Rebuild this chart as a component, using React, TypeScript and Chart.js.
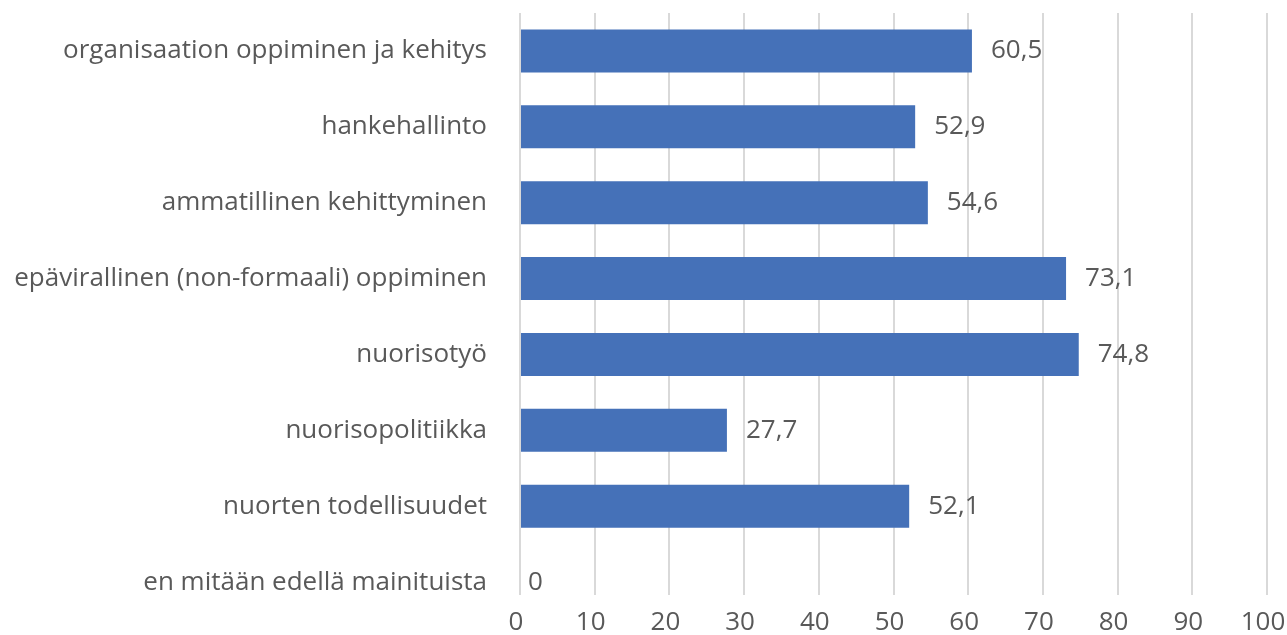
import React, { useEffect, useRef } from "react";
import { Chart, registerables } from "chart.js";

Chart.register(...registerables);

const categories = [
  "organisaation oppiminen ja kehitys",
  "hankehallinto",
  "ammatillinen kehittyminen",
  "epävirallinen (non-formaali) oppiminen",
  "nuorisotyö",
  "nuorisopolitiikka",
  "nuorten todellisuudet",
  "en mitään edellä mainituista",
];
const values = [60.5, 52.9, 54.6, 73.1, 74.8, 27.7, 52.1, 0];
const xTicks = [0, 10, 20, 30, 40, 50, 60, 70, 80, 90, 100];

const FONT = "'Open Sans'";
const SIZE = 26;
const TEXT = "#595959";

const fmt = (v: number) =>
  Number.isInteger(v) ? String(v) : v.toFixed(1).replace(".", ",");

const valueLabels = {
  id: "valueLabels",
  afterDatasetsDraw(chart: any) {
    const { ctx } = chart;
    const meta = chart.getDatasetMeta(0);
    ctx.save();
    ctx.font = `${SIZE}px ${FONT}`;
    ctx.fillStyle = TEXT;
    ctx.textAlign = "left";
    ctx.textBaseline = "middle";
    meta.data.forEach((bar: any, i: number) => {
      const v = values[i];
      ctx.fillText(fmt(v), bar.x + (v === 0 ? 8 : 19), bar.y);
    });
    ctx.restore();
  },
};

export default function App() {
  const ref = useRef<HTMLCanvasElement | null>(null);
  useEffect(() => {
    document.body.style.margin = "0";
    if (!ref.current) return;
    const chart = new Chart(ref.current, {
      type: "bar",
      data: {
        datasets: [
          {
            data: values.map((v, i) => ({ x: v, y: i })),
            backgroundColor: "#4571B8",
            borderWidth: 0,
            inflateAmount: 0,
            barThickness: 43,
          },
        ],
      },
      options: {
        indexAxis: "y",
        animation: false,
        responsive: false,
        layout: { padding: { top: 13, right: 20, bottom: 0, left: 0 } },
        plugins: { legend: { display: false }, tooltip: { enabled: false } },
        scales: {
          x: {
            type: "linear",
            min: 0,
            max: 100,
            afterBuildTicks: (s: any) => {
              s.ticks = xTicks.map((v) => ({ value: v }));
            },
            afterFit: (s: any) => {
              s.height = 40;
              s.paddingLeft = 0;
              s.paddingRight = 0;
            },
            grid: { color: "#d9d9d9", lineWidth: 2, drawTicks: false },
            border: { display: false },
            ticks: {
              color: TEXT,
              font: { family: FONT, size: SIZE },
              padding: 12,
              labelOffset: -4,
              maxRotation: 0,
            },
          },
          y: {
            type: "linear",
            reverse: true,
            offset: false,
            min: -0.5,
            max: 7.17,
            afterBuildTicks: (s: any) => {
              s.ticks = categories.map((_, i) => ({ value: i }));
            },
            afterFit: (s: any) => {
              s.width = 520;
              s.paddingTop = 0;
              s.paddingBottom = 0;
            },
            grid: { display: false, drawTicks: false, offset: false },
            border: { display: false },
            ticks: {
              color: TEXT,
              font: { family: FONT, size: SIZE },
              padding: 33,
              autoSkip: false,
              callback: (v: any) => categories[v as number] ?? "",
            },
          },
        },
      },
      plugins: [valueLabels],
    });
    return () => chart.destroy();
  }, []);
  return <canvas ref={ref} width={1287} height={635} style={{ display: "block" }} />;
}
